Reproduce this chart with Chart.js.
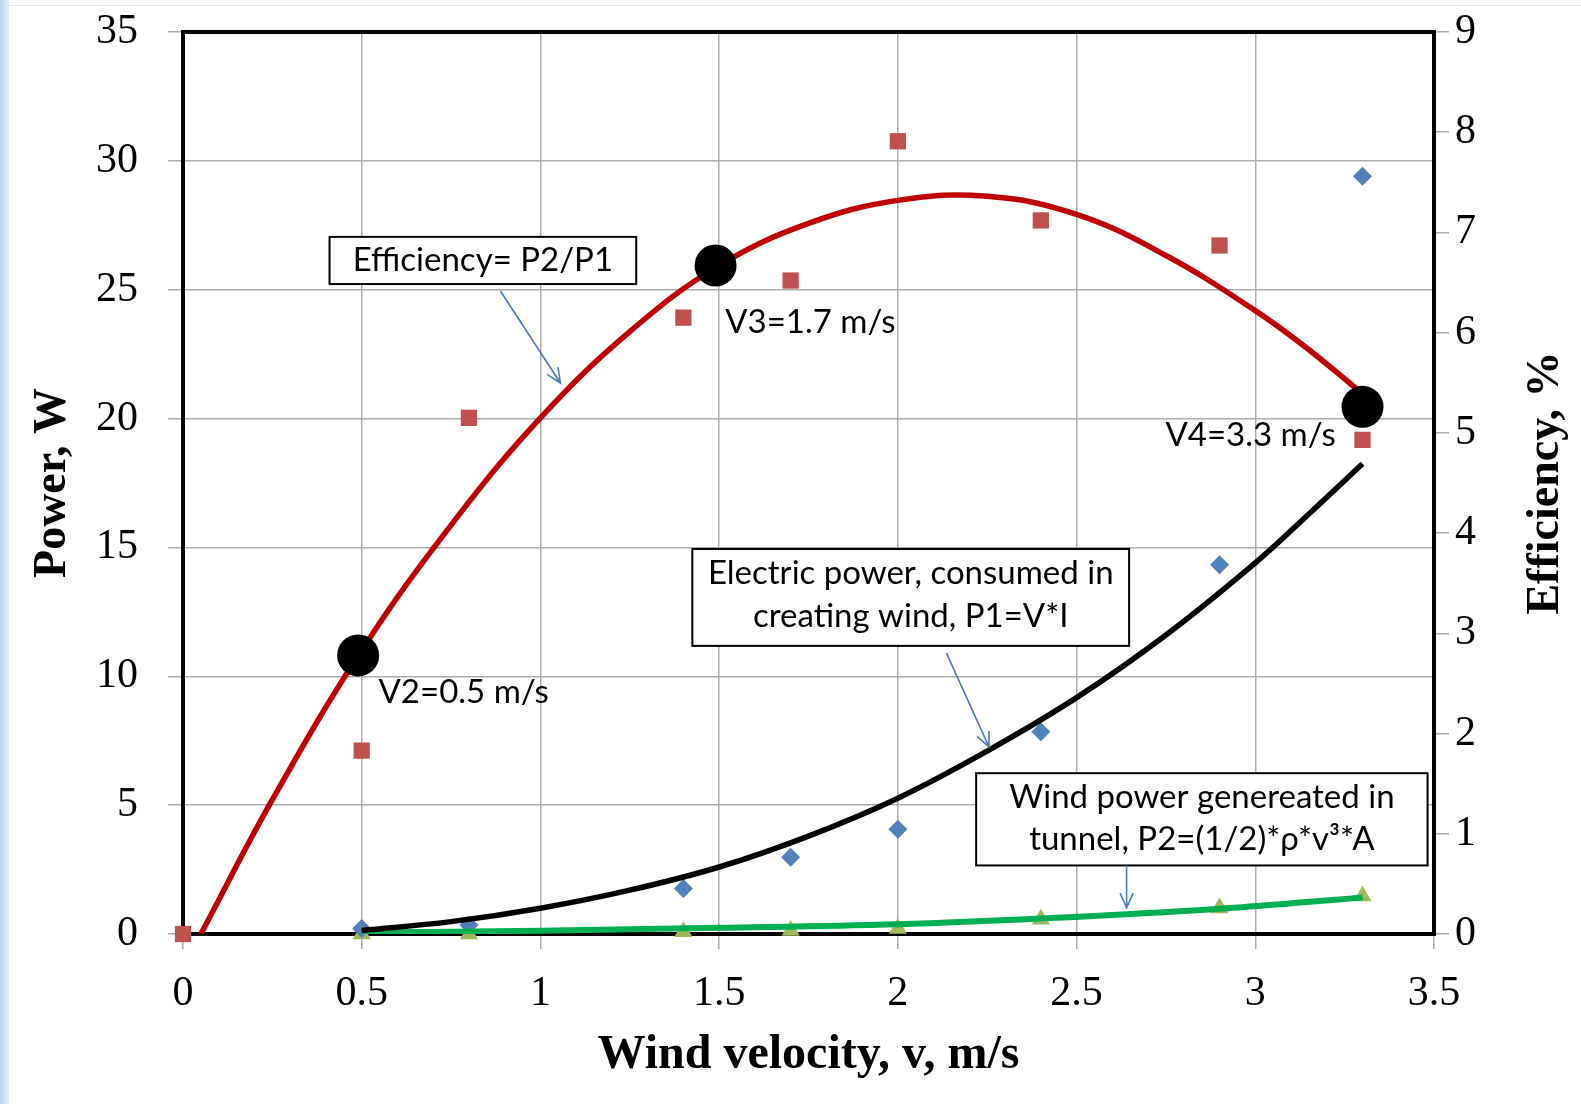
<!DOCTYPE html>
<html>
<head>
<meta charset="utf-8">
<title>Power and efficiency vs wind velocity</title>
<script src="https://cdn.jsdelivr.net/npm/chart.js@4.4.1/dist/chart.umd.min.js"></script>
<style>
  html, body { margin: 0; padding: 0; background: #fff; }
  #wrap { position: relative; width: 1581px; height: 1104px; overflow: hidden; }
  #wrap::before { content: ''; position: absolute; left: 0; top: 0; bottom: 0; width: 9px;
    background: linear-gradient(to right, #b8d2f3, #e6effb); }
  #wrap::after { content: ''; position: absolute; left: 9px; right: 0; top: 5px; height: 1px; background: #dde5ee; }
  canvas { position: relative; z-index: 1; }
</style>
</head>
<body>
<div id="wrap"><canvas id="chart" width="1581" height="1104"></canvas></div>
<script>
// Measured points
const velocity = [0.5, 0.8, 1.4, 1.7, 2.0, 2.4, 2.9, 3.3];
const effVelocity = [0, 0.5, 0.8, 1.4, 1.7, 2.0, 2.4, 2.9, 3.3];
const efficiency = [0, 1.83, 5.15, 6.15, 6.52, 7.91, 7.12, 6.87, 4.93];
const electricPower = [0.21, 0.35, 1.77, 2.98, 4.06, 7.85, 14.33, 29.4];
const windPower = [0, 0, 0.09, 0.14, 0.21, 0.57, 1.01, 1.47];

// Trend curves
const effFitX = [0.05, 0.25, 0.5, 0.75, 1.0, 1.25, 1.5, 1.75, 2.0, 2.25, 2.5, 2.75, 3.0, 3.15, 3.3];
const effFit = [0, 1.34, 2.83, 4.08, 5.15, 6.01, 6.67, 7.09, 7.32, 7.36, 7.18, 6.77, 6.22, 5.83, 5.39];
const p1FitX = [0.5, 0.75, 1.0, 1.25, 1.5, 1.75, 2.0, 2.25, 2.5, 2.75, 3.0, 3.15, 3.3];
const p1Fit = [0.14, 0.48, 1.0, 1.7, 2.6, 3.8, 5.27, 7.1, 9.17, 11.6, 14.4, 16.3, 18.25];
const p2FitX = [0.5, 1.0, 1.5, 2.0, 2.4, 2.9, 3.3];
const p2Fit = [0.06, 0.13, 0.24, 0.38, 0.6, 0.98, 1.42];

// Highlighted points on the efficiency curve
const markX = [0.49, 1.49, 3.3];
const markEff = [2.78, 6.67, 5.26];

// Tick labels
const xTickValues = [0, 0.5, 1, 1.5, 2, 2.5, 3, 3.5];
const powerTicks = [0, 5, 10, 15, 20, 25, 30, 35];
const effTicks = [0, 1, 2, 3, 4, 5, 6, 7, 8, 9];

// Text boxes and labels, placed in data units (x, left axis)
const notes = [
    { lines: ['Efficiency= P2/P1'], x0: 0.41, x1: 1.268, yTop: 27.05, yBot: 25.22, lineY: [26.12],
      arrow: [0.888, 24.95, 1.056, 21.38] },
    { lines: ['Electric power, consumed in', 'creating wind, P1=V*I'], x0: 1.425, x1: 2.647, yTop: 14.94, yBot: 11.18,
      lineY: [14.01, 12.34], arrow: [2.136, 10.9, 2.255, 7.26] },
    { lines: ['Wind power genereated in', 'tunnel, P2=(1/2)*\u03c1*v\u00b3*A'], x0: 2.219, x1: 3.482, yTop: 6.24, yBot: 2.66,
      lineY: [5.29, 3.69], arrow: [2.64, 2.66, 2.64, 1.02] }
];
const pointLabels = [
    { text: 'V2=0.5 m/s', x: 0.547, y: 9.39, align: 'left' },
    { text: 'V3=1.7 m/s', x: 1.517, y: 23.75, align: 'left' },
    { text: 'V4=3.3 m/s', x: 3.225, y: 19.36, align: 'right' }
];

const colors = {
    effMarker: '#c0504d',
    p1Marker: '#4f81bd',
    p2Marker: '#9bbb59',
    effLine: '#c00000',
    p1Line: '#000000',
    p2Line: '#00b050',
    grid: '#ababab',
    arrow: '#4a7ebb'
};

const tickFont = { family: 'Liberation Serif', size: 42 };
const titleFont = { family: 'Liberation Serif', size: 46, weight: 'bold' };
const noteFont = '33px Lato';

function toPoints(xs, ys) {
    return xs.map((x, i) => ({ x: x, y: ys[i] }));
}

function drawArrow(ctx, x1, y1, x2, y2) {
    const ang = Math.atan2(y2 - y1, x2 - x1);
    const head = 16, spread = 0.42;
    ctx.beginPath();
    ctx.moveTo(x1, y1);
    ctx.lineTo(x2, y2);
    ctx.moveTo(x2 - head * Math.cos(ang - spread), y2 - head * Math.sin(ang - spread));
    ctx.lineTo(x2, y2);
    ctx.lineTo(x2 - head * Math.cos(ang + spread), y2 - head * Math.sin(ang + spread));
    ctx.stroke();
}

// Fix a vertical axis to a set width and let the tick labels overhang the chart area
function fixWidth(w) {
    return s => {
        s.width = w;
        s.paddingTop = 0;
        s.paddingBottom = 0;
    };
}

// Frame, text boxes, arrows and the right-hand title
const notesPlugin = {
    id: 'notes',
    beforeDatasetsDraw(chart) {
        const { ctx, chartArea: a } = chart;
        ctx.save();
        ctx.strokeStyle = '#000';
        ctx.lineWidth = 4;
        ctx.strokeRect(a.left, a.top, a.right - a.left, a.bottom - a.top);
        ctx.restore();
    },
    afterDatasetsDraw(chart) {
        const { ctx, scales } = chart;
        const x = scales.x, y = scales.y;
        ctx.save();
        ctx.font = noteFont;
        ctx.textBaseline = 'middle';
        notes.forEach(n => {
            const l = x.getPixelForValue(n.x0), r = x.getPixelForValue(n.x1);
            const t = y.getPixelForValue(n.yTop), b = y.getPixelForValue(n.yBot);
            ctx.fillStyle = '#fff';
            ctx.fillRect(l, t, r - l, b - t);
            ctx.strokeStyle = '#000';
            ctx.lineWidth = 2;
            ctx.strokeRect(l, t, r - l, b - t);
            ctx.fillStyle = '#000';
            ctx.textAlign = 'center';
            n.lines.forEach((s, i) => ctx.fillText(s, (l + r) / 2, y.getPixelForValue(n.lineY[i])));
            ctx.strokeStyle = colors.arrow;
            ctx.lineWidth = 1.6;
            drawArrow(ctx, x.getPixelForValue(n.arrow[0]), y.getPixelForValue(n.arrow[1]),
                x.getPixelForValue(n.arrow[2]), y.getPixelForValue(n.arrow[3]));
        });
        ctx.fillStyle = '#000';
        pointLabels.forEach(p => {
            ctx.textAlign = p.align;
            ctx.fillText(p.text, x.getPixelForValue(p.x), y.getPixelForValue(p.y));
        });
        ctx.restore();
    },
    afterDraw(chart) {
        const { ctx, chartArea: a } = chart;
        const y2 = chart.scales.y2;
        ctx.save();
        ctx.translate(y2.right - 35, (a.top + a.bottom) / 2);
        ctx.rotate(-Math.PI / 2);
        ctx.font = 'bold 46px "Liberation Serif"';
        ctx.fillStyle = '#000';
        ctx.textAlign = 'center';
        ctx.textBaseline = 'middle';
        ctx.fillText('Efficiency, %', 0, 0);
        ctx.restore();
    }
};

const gridOpts = { color: colors.grid, lineWidth: 1.5, tickLength: 15, tickColor: colors.grid, tickWidth: 1.5 };

new Chart(document.getElementById('chart'), {
    type: 'scatter',
    data: {
        datasets: [
            {
                label: 'Marked velocities',
                data: toPoints(markX, markEff),
                yAxisID: 'y2',
                pointStyle: 'circle',
                pointRadius: 21,
                backgroundColor: '#000',
                borderWidth: 0,
                clip: false,
                order: 0
            },
            {
                label: 'Efficiency trend',
                data: toPoints(effFitX, effFit),
                yAxisID: 'y2',
                showLine: true,
                borderColor: colors.effLine,
                borderWidth: 5.5,
                pointRadius: 0,
                tension: 0.4,
                order: 1
            },
            {
                label: 'P1 trend',
                data: toPoints(p1FitX, p1Fit),
                yAxisID: 'y',
                showLine: true,
                borderColor: colors.p1Line,
                borderWidth: 5.5,
                pointRadius: 0,
                tension: 0.4,
                order: 1
            },
            {
                label: 'P2 trend',
                data: toPoints(p2FitX, p2Fit),
                yAxisID: 'y',
                showLine: true,
                borderColor: colors.p2Line,
                borderWidth: 6,
                pointRadius: 0,
                tension: 0.4,
                order: 1
            },
            {
                label: 'Efficiency',
                data: toPoints(effVelocity, efficiency),
                yAxisID: 'y2',
                pointStyle: 'rect',
                pointRadius: 11.5,
                backgroundColor: colors.effMarker,
                borderWidth: 0,
                clip: false,
                order: 2
            },
            {
                label: 'Electric power P1',
                data: toPoints(velocity, electricPower),
                yAxisID: 'y',
                pointStyle: 'rectRot',
                pointRadius: 9.5,
                backgroundColor: colors.p1Marker,
                borderWidth: 0,
                clip: false,
                order: 2
            },
            {
                label: 'Wind power P2',
                data: toPoints(velocity, windPower),
                yAxisID: 'y',
                pointStyle: 'triangle',
                pointRadius: 10.5,
                backgroundColor: colors.p2Marker,
                borderWidth: 0,
                clip: false,
                order: 2
            }
        ]
    },
    options: {
        responsive: false,
        animation: false,
        events: [],
        layout: { padding: { top: 32, left: 0, right: 0, bottom: 0 } },
        plugins: {
            legend: { display: false },
            tooltip: { enabled: false }
        },
        scales: {
            x: {
                type: 'linear',
                position: 'bottom',
                min: 0,
                max: 3.5,
                afterBuildTicks: s => { s.ticks = xTickValues.map(v => ({ value: v })); },
                afterFit: s => { s.height = 170; },
                grid: gridOpts,
                border: { display: false },
                ticks: { font: tickFont, color: '#000', padding: 20, maxRotation: 0, autoSkip: false,
                    callback: v => String(v) },
                title: {
                    display: true,
                    text: 'Wind velocity, v, m/s',
                    color: '#000',
                    font: { family: 'Liberation Serif', size: 48, weight: 'bold' },
                    padding: { top: 0, bottom: 20 }
                }
            },
            y: {
                type: 'linear',
                position: 'left',
                min: 0,
                max: 35,
                afterBuildTicks: s => { s.ticks = powerTicks.map(v => ({ value: v })); },
                afterFit: fixWidth(183),
                grid: gridOpts,
                border: { display: false },
                ticks: { font: tickFont, color: '#000', padding: 30, callback: v => String(v) },
                title: {
                    display: true,
                    text: 'Power, W',
                    color: '#000',
                    font: titleFont,
                    padding: { top: 26, bottom: 0 }
                }
            },
            y2: {
                type: 'linear',
                position: 'right',
                min: 0,
                max: 9,
                afterBuildTicks: s => { s.ticks = effTicks.map(v => ({ value: v })); },
                afterFit: fixWidth(147),
                grid: { ...gridOpts, drawOnChartArea: false },
                border: { display: false },
                ticks: { font: tickFont, color: '#000', padding: 6, callback: v => String(v) }
            }
        }
    },
    plugins: [notesPlugin]
});
</script>
</body>
</html>
